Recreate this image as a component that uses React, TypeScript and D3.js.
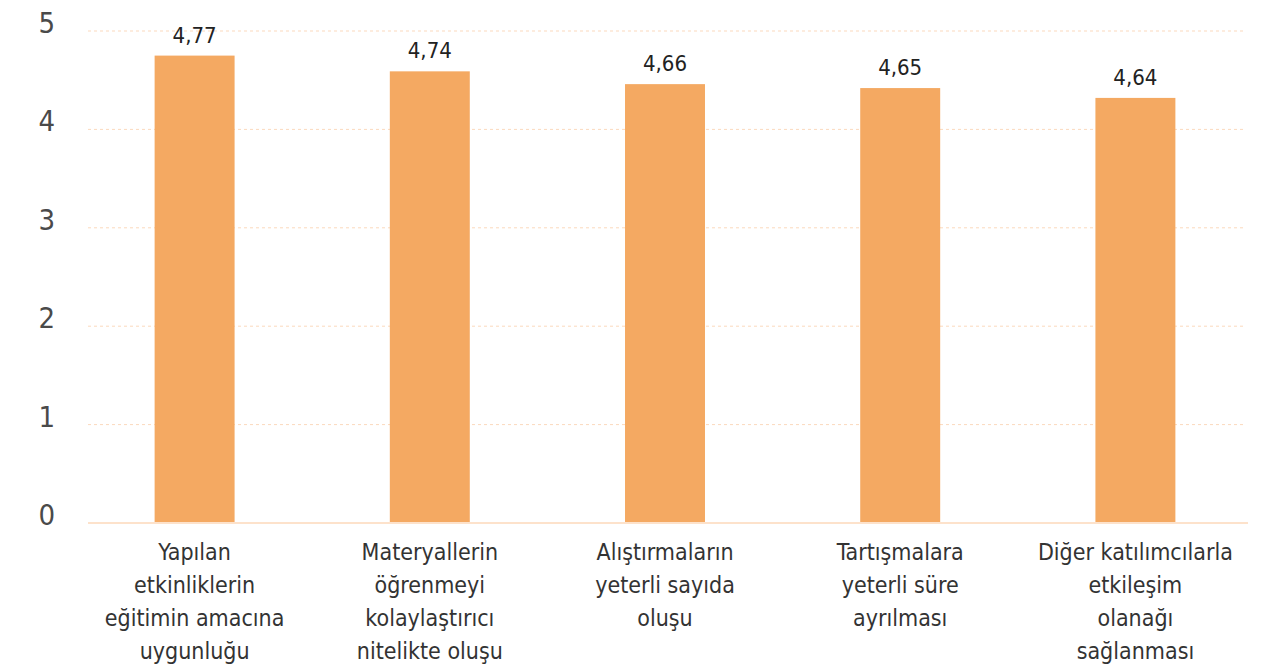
import React from "react";
import * as d3 from "d3";

const categories: string[] = [
  "Yapılan\netkinliklerin\neğitimin amacına\nuygunluğu",
  "Materyallerin\nöğrenmeyi\nkolaylaştırıcı\nnitelikte oluşu",
  "Alıştırmaların\nyeterli sayıda\noluşu",
  "Tartışmalara\nyeterli süre\nayrılması",
  "Diğer katılımcılarla\netkileşim\nolanağı\nsağlanması",
];
// bar heights as drawn in the picture
const barValues: number[] = [4.75, 4.59, 4.46, 4.42, 4.32];
// value labels as printed
const valueLabels: string[] = ["4,77", "4,74", "4,66", "4,65", "4,64"];
const yTicks: number[] = [0, 1, 2, 3, 4, 5];

const W = 1268;
const H = 671;
const FONT = "'Liberation Sans Narrow', 'DejaVu Sans Condensed', 'Roboto', sans-serif";

export default function App() {
  const x = d3
    .scaleBand<string>()
    .domain(categories)
    .range([77, 1253])
    .paddingInner(0.66)
    .paddingOuter(0.33);
  const y = d3.scaleLinear().domain([0, 5]).range([523, 31]);

  return (
    <div style={{ position: "absolute", left: 0, top: 0 }}>
      <svg width={W} height={H} style={{ display: "block", background: "#fff" }}>
        {yTicks.map((t) => (
          <g key={t}>
            {t > 0 && (
              <line
                x1={88}
                x2={1245}
                y1={y(t)}
                y2={y(t)}
                stroke="#FBD9BD"
                strokeWidth={1}
                strokeDasharray="3,3"
              />
            )}
            <text
              x={55}
              y={y(t) + 2}
              textAnchor="end"
              fontFamily={FONT}
              fontSize={29}
              fill="#4a4a4a"
            >
              {t}
            </text>
          </g>
        ))}
        {categories.map((c, i) => (
          <rect
            key={c}
            x={x(c)}
            y={y(barValues[i])}
            width={x.bandwidth()}
            height={y(0) - y(barValues[i])}
            fill="#F4A962"
          />
        ))}
        <line x1={88} x2={1248} y1={y(0)} y2={y(0)} stroke="#FDE2CB" strokeWidth={2} />
        {categories.map((c, i) => (
          <text
            key={"v" + c}
            x={(x(c) as number) + x.bandwidth() / 2}
            y={y(barValues[i]) - 13}
            textAnchor="middle"
            fontFamily={FONT}
            fontSize={22}
            fill="#222"
          >
            {valueLabels[i]}
          </text>
        ))}
        {categories.map((c) => (
          <text
            key={"c" + c}
            x={(x(c) as number) + x.bandwidth() / 2}
            y={560}
            textAnchor="middle"
            fontFamily={FONT}
            fontSize={23}
            fill="#333"
          >
            {c.split("\n").map((line, j) => (
              <tspan key={j} x={(x(c) as number) + x.bandwidth() / 2} dy={j === 0 ? 0 : 33}>
                {line}
              </tspan>
            ))}
          </text>
        ))}
      </svg>
    </div>
  );
}
